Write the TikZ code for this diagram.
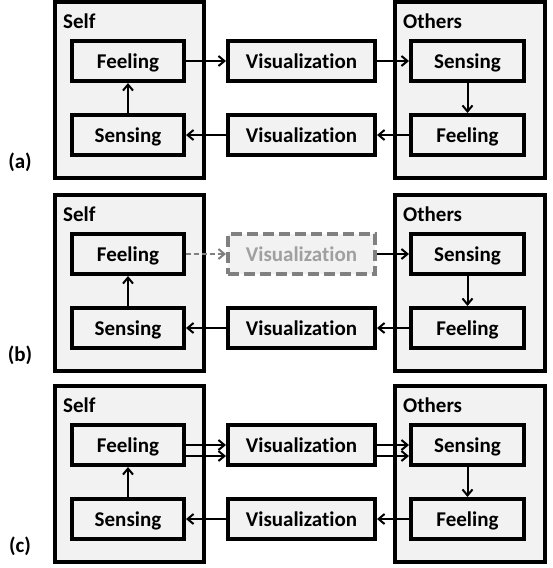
\documentclass[tikz,border=0pt]{standalone}
\usepackage{fontspec}
\setmainfont[Ligatures=NoCommon,RawFeature={-liga;-clig;-calt;-dlig}]{Carlito}
\usetikzlibrary{arrows.meta, positioning}

\definecolor{boxfill}{HTML}{F2F2F2}
\definecolor{ghost}{HTML}{808080}
\definecolor{ghosttext}{HTML}{A0A0A0}

\begin{document}
\begin{tikzpicture}[x=1pt,y=-1pt,font=\fontsize{21}{25}\selectfont\bfseries,
  group/.style={draw,line width=4pt,fill=boxfill,minimum height=176pt,inner sep=0pt},
  stage/.style={draw,line width=4pt,fill=boxfill,minimum height=40pt,inner sep=0pt,
    text height=14pt,text depth=0pt},
  ghoststage/.style={stage,draw=ghost,text=ghosttext,dash pattern=on 11pt off 5pt},
  flow/.style={-{Straight Barb[length=6pt,width=10pt]},line width=2pt},
  ghostflow/.style={flow,draw=ghost,dash pattern=on 5pt off 3pt}]

  \useasboundingbox (0,0) rectangle (552,568);

  % --- Three panels (a), (b), (c), stacked; only the top row differs ---
  \foreach \p/\o/\vs in {a/0/stage,b/193/ghoststage,c/384/stage}{
    % frames
    \node[group,minimum width=149pt] (self-\p) at (129.5,90+\o) {};
    \node[group,minimum width=150pt] (others-\p) at (470,90+\o) {};
    \node[anchor=base west,inner sep=0pt] (selftxt-\p) at (63,28+\o) {Self};
    \node[anchor=base west,inner sep=0pt] (otherstxt-\p) at (403,28+\o) {Others};
    \node (tag-\p) at (20,162+\o) {(\p)};

    % stages
    \node[stage,minimum width=112pt] (feel-s-\p) at (128,61+\o) {Feeling};
    \node[stage,minimum width=112pt] (sens-s-\p) at (128,135+\o) {Sensing};
    \node[\vs,minimum width=147pt] (viz-t-\p) at (301.5,61+\o) {Visualization};
    \node[stage,minimum width=147pt] (viz-b-\p) at (301.5,135+\o) {Visualization};
    \node[stage,minimum width=113pt] (sens-o-\p) at (467.5,61+\o) {Sensing};
    \node[stage,minimum width=113pt] (feel-o-\p) at (467.5,135+\o) {Feeling};

    % loop back to self
    \draw[flow] (sens-o-\p) -- (feel-o-\p);
    \draw[flow] (feel-o-\p) -- (viz-b-\p);
    \draw[flow] (viz-b-\p) -- (sens-s-\p);
    \draw[flow] (sens-s-\p) -- (feel-s-\p);
  }

  % --- Top row, panel (a) ---
  \draw[flow] (feel-s-a) -- (viz-t-a);
  \draw[flow] (viz-t-a) -- (sens-o-a);

  % --- Top row, panel (b): visualization left out ---
  \draw[ghostflow] (feel-s-b) -- (viz-t-b);
  \draw[flow] (viz-t-b) -- (sens-o-b);

  % --- Top row, panel (c): two channels ---
  \draw[flow] (feel-s-c.east) -- (viz-t-c.west);
  \draw[flow] ([yshift=-11pt]feel-s-c.east) -- ([yshift=-11pt]viz-t-c.west);
  \draw[flow] (viz-t-c.east) -- (sens-o-c.west);
  \draw[flow] ([yshift=-11pt]viz-t-c.east) -- ([yshift=-11pt]sens-o-c.west);

\end{tikzpicture}
\end{document}
